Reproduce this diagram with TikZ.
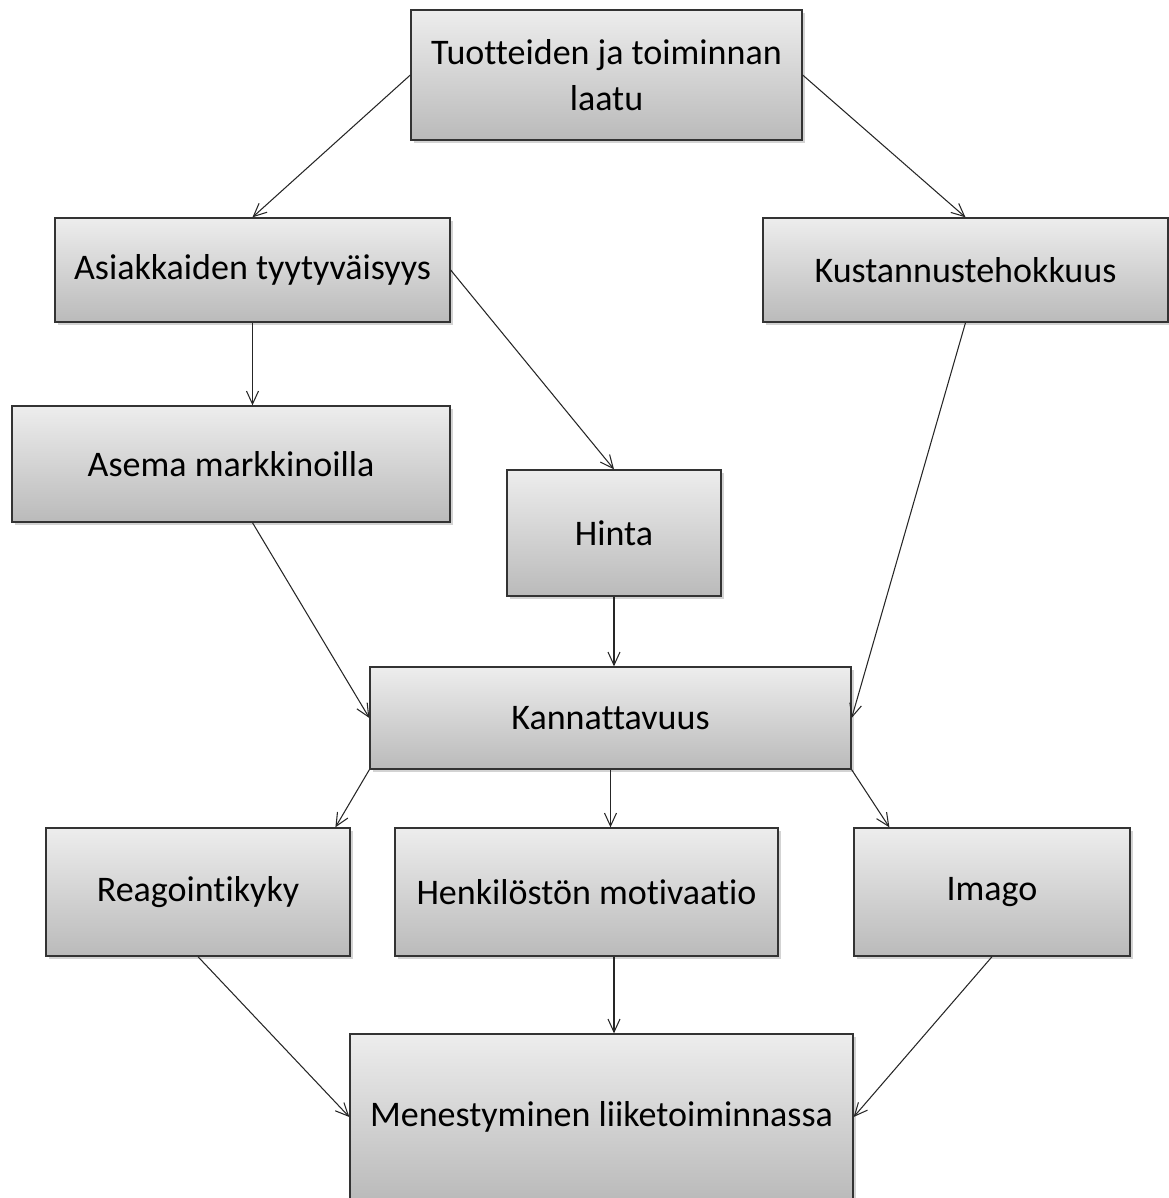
\documentclass[tikz,border=0pt]{standalone}
\usepackage{fontspec}
\setmainfont{Carlito}[Ligatures=NoCommon]
\usetikzlibrary{arrows.meta,shadows,calc}

\begin{document}
\begin{tikzpicture}[x=0.02cm, y=-0.02cm,
    every node/.style={font=\fontsize{20.5}{26}\selectfont},
    box/.style={draw=black!80, line width=0.8pt, top color=black!7, bottom color=black!27,
                align=center, inner sep=0pt,
                drop shadow={shadow xshift=0.06cm, shadow yshift=-0.06cm, opacity=0.35}},
    link/.style={-{Straight Barb[length=0.26cm,width=0.24cm]}, black!85, line width=0.6pt}]
    \useasboundingbox (0,0) rectangle (1169,1198);
    % boxes
    \node[box,minimum width=7.82cm,minimum height=2.60cm] (laatu)  at (606.5,  75) {Tuotteiden ja toiminnan\\laatu};
    \node[box,minimum width=7.90cm,minimum height=2.08cm] (asiak)  at (252.5, 270) {Asiakkaiden tyytyväisyys};
    \node[box,minimum width=8.10cm,minimum height=2.08cm] (kust)   at (965.5, 270) {Kustannustehokkuus};
    \node[box,minimum width=8.76cm,minimum height=2.32cm] (asema)  at (231,   464) {Asema markkinoilla};
    \node[box,minimum width=4.28cm,minimum height=2.52cm] (hinta)  at (614,   533) {Hinta};
    \node[box,minimum width=9.62cm,minimum height=2.04cm] (kann)   at (610.5, 718) {Kannattavuus};
    \node[box,minimum width=6.08cm,minimum height=2.56cm] (reag)   at (198,   892) {Reagointikyky};
    \node[box,minimum width=7.66cm,minimum height=2.56cm] (henk)   at (586.5, 892) {Henkilöstön motivaatio};
    \node[box,minimum width=5.52cm,minimum height=2.56cm] (imago)  at (992,   892) {Imago};
    \node[box,minimum width=10.06cm,minimum height=3.32cm] (menest) at (601.5,1117) {Menestyminen liiketoiminnassa};
    % links
    \draw[link] (laatu.west) -- (asiak.north);
    \draw[link] (laatu.east) -- (kust.north);
    \draw[link] (asiak.south) -- (asiak.south |- asema.north);
    \draw[link] (asiak.east) -- (hinta.north);
    \draw[link] (kust.south) -- (kann.east);
    \draw[link] (asiak.south |- asema.south) -- (kann.west);
    \draw[link] (hinta.south) -- (hinta.south |- kann.north);
    \draw[link] (kann.south west) -- ($(reag.north)!0.9!(reag.north east)$);
    \draw[link] (kann.south) -- (kann.south |- henk.north);
    \draw[link] (kann.south east) -- ($(imago.north west)!0.26!(imago.north)$);
    \draw[link] (reag.south) -- (menest.west);
    \draw[link] (hinta.south |- henk.south) -- (hinta.south |- menest.north);
    \draw[link] (imago.south) -- (menest.east);
\end{tikzpicture}
\end{document}
